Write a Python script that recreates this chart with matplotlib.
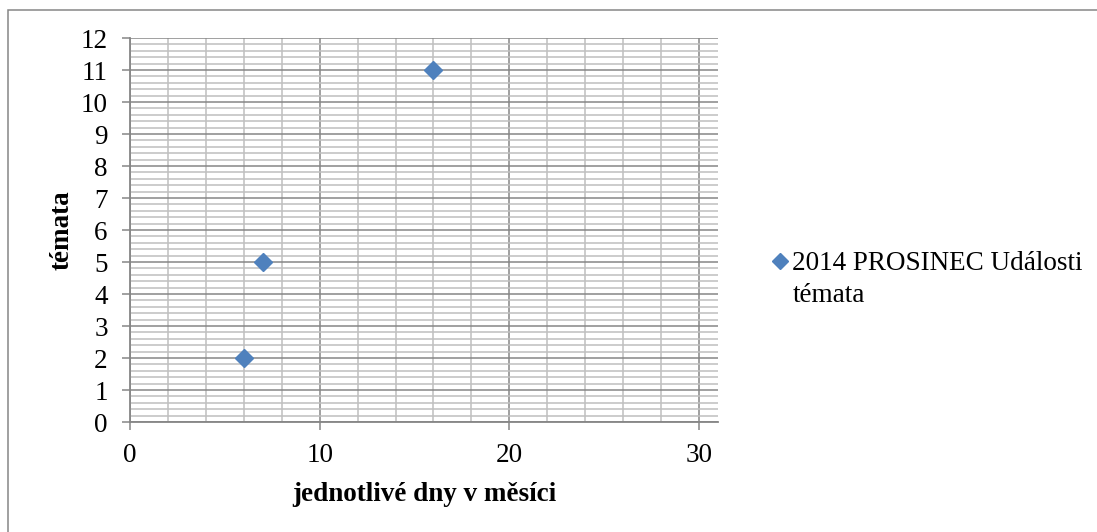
import matplotlib.pyplot as plt
from matplotlib.lines import Line2D
from matplotlib.patches import Rectangle
from matplotlib.ticker import MultipleLocator

# dny v mesici a pocet temat
dny = [6, 7, 16]
temata = [2, 5, 11]
serie_nazev = "2014 PROSINEC Události"
serie_nazev2 = "témata"
x_popis = "jednotlivé dny v měsíci"
y_popis = "témata"

plt.rcParams['font.family'] = ['Liberation Serif', 'DejaVu Serif']

MODRA = '#4F81BD'
SEDA_HL = '#868686'
SEDA_VED = '#BFBFBF'

fig = plt.figure(figsize=(10.97, 5.32), dpi=100)

# ramecek grafu
fig.patches.append(Rectangle((8 / 1097, -0.1), 1.2, (532 - 10) / 532 + 0.1,
                             transform=fig.transFigure, fill=False,
                             edgecolor=SEDA_HL, linewidth=1.1))

ax = fig.add_axes([130 / 1097, 110 / 532, 588 / 1097, 384 / 532])
ax.set_xlim(0, 31)
ax.set_ylim(0, 12)

ax.xaxis.set_major_locator(MultipleLocator(10))
ax.xaxis.set_minor_locator(MultipleLocator(2))
ax.yaxis.set_major_locator(MultipleLocator(1))
ax.yaxis.set_minor_locator(MultipleLocator(0.2))

ax.grid(which='minor', color=SEDA_VED, linewidth=1.1)
ax.grid(which='major', color=SEDA_HL, linewidth=1.1)
ax.set_axisbelow(True)

for s in ['top', 'right']:
    ax.spines[s].set_visible(False)
for s in ['left', 'bottom']:
    ax.spines[s].set_color(SEDA_HL)
    ax.spines[s].set_linewidth(1.3)

ax.tick_params(which='major', direction='out', length=6, width=1.1,
               color=SEDA_HL, labelsize=19.5)
ax.tick_params(axis='y', pad=10)
ax.tick_params(axis='x', pad=9)
ax.tick_params(which='minor', length=0)

ax.plot(dny, temata, linestyle='none', marker='D', markersize=9.5,
        color=MODRA, clip_on=False, zorder=5)

ax.set_xlabel(x_popis, fontsize=19.5, fontweight='bold', labelpad=10)
ax.set_ylabel(y_popis, fontsize=19.5, fontweight='bold', labelpad=4)

# legenda
znacka = Line2D([], [], linestyle='none', marker='D', markersize=8.5, color=MODRA)
leg = fig.legend([znacka], [serie_nazev], loc='upper left',
                 bbox_to_anchor=(772 / 1097, 1 - 251 / 532),
                 frameon=False, fontsize=19.5, handlelength=0.6,
                 handletextpad=0.15, borderpad=0, borderaxespad=0)
fig.canvas.draw()
bb = leg.get_texts()[0].get_window_extent()
fig.text(bb.x0 / 1097, (bb.y0 - 32) / 532, serie_nazev2, fontsize=19.5,
         ha='left', va='bottom')

fig.savefig('out.png', dpi=100)
